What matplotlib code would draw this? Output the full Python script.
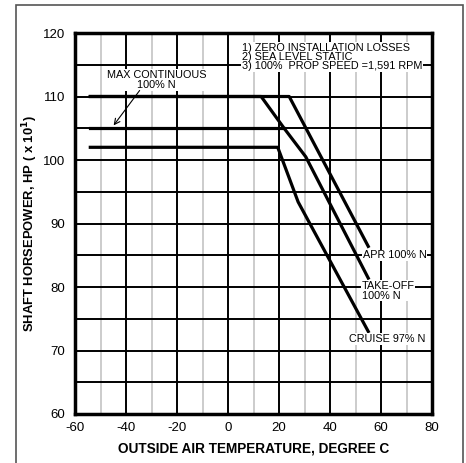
import matplotlib.pyplot as plt
from matplotlib.patches import Rectangle

# curve values (temp deg C, shaft hp x10)
apr_temp = [-54, 24, 55]
apr_shp = [110, 110, 86.4]
takeoff_temp = [-54, 13, 22, 30.5, 55]
takeoff_shp = [110, 110, 105, 100.5, 81.4]
maxcont_temp = [-54, 22]
maxcont_shp = [105, 105]
cruise_temp = [-54, 19.5, 27.5, 55]
cruise_shp = [102, 102, 93.4, 73.0]

x_ticks = [-60, -40, -20, 0, 20, 40, 60, 80]
y_ticks = [60, 70, 80, 90, 100, 110, 120]
notes = "1) ZERO INSTALLATION LOSSES\n2) SEA LEVEL STATIC\n3) 100%  PROP SPEED =1,591 RPM"

plt.rcParams['font.family'] = ['Liberation Sans', 'DejaVu Sans']
plt.rcParams['axes.unicode_minus'] = False

fig = plt.figure(figsize=(4.66, 4.63), dpi=100)
ax = fig.add_axes([75/466, 1 - 414/463, 357/466, 381/463])

# outer grey frame, bottom edge runs off the image
fig.patches.append(Rectangle((16/466, -0.05), 447/466, 1.05 - 5/463, transform=fig.transFigure,
                             fill=False, edgecolor='#555555', linewidth=1.2))

ax.set_xlim(-60, 80)
ax.set_ylim(60, 120)
ax.set_xticks(x_ticks)
ax.set_yticks(y_ticks)
ax.set_xticks(range(-50, 80, 20), minor=True)
ax.set_yticks(range(65, 120, 10), minor=True)
ax.tick_params(which='both', length=0, labelsize=9.5)
ax.tick_params(axis='x', pad=6)
ax.tick_params(axis='y', pad=7)
ax.grid(True, which='major', color='black', linewidth=1.4)
ax.grid(True, which='minor', axis='x', color='#cccccc', linewidth=1.4)
ax.grid(True, which='minor', axis='y', color='black', linewidth=1.4)
ax.set_axisbelow(True)
for sp in ax.spines.values():
    sp.set_linewidth(2.5)

lw = 2.3
ax.plot(apr_temp, apr_shp, color='black', linewidth=lw)
ax.plot(takeoff_temp, takeoff_shp, color='black', linewidth=lw)
ax.plot(maxcont_temp, maxcont_shp, color='black', linewidth=lw)
ax.plot(cruise_temp, cruise_shp, color='black', linewidth=lw)

box = dict(facecolor='white', edgecolor='none', pad=0.5)
ax.text(5.5, 118.5, notes, fontsize=7.8, va='top', ha='left', linespacing=0.9, bbox=box)
ax.text(-28, 112.6, "MAX CONTINUOUS\n100% N", fontsize=7.8, ha='center', va='center',
        linespacing=1.05, bbox=box)
ax.annotate("", xy=(-45.5, 105.1), xytext=(-34, 111.3),
            arrowprops=dict(arrowstyle='->', color='black', linewidth=0.8))
ax.text(52.8, 85.0, "APR 100% N", fontsize=7.8, ha='left', va='center', bbox=box)
ax.text(52.4, 79.4, "TAKE-OFF\n100% N", fontsize=7.8, ha='left', va='center',
        linespacing=1.0, bbox=box)
ax.text(47.6, 71.8, "CRUISE 97% N", fontsize=7.8, ha='left', va='center', bbox=box)

ax.set_xlabel("OUTSIDE AIR TEMPERATURE, DEGREE C", fontsize=9.8, fontweight='bold', labelpad=5)
ax.set_ylabel("SHAFT HORSEPOWER, HP ( x 10$^\\mathbf{1}$)", fontsize=9.4, fontweight='bold')
ax.yaxis.set_label_coords(-0.098, 0.5)

plt.savefig('out.png', dpi=100)
